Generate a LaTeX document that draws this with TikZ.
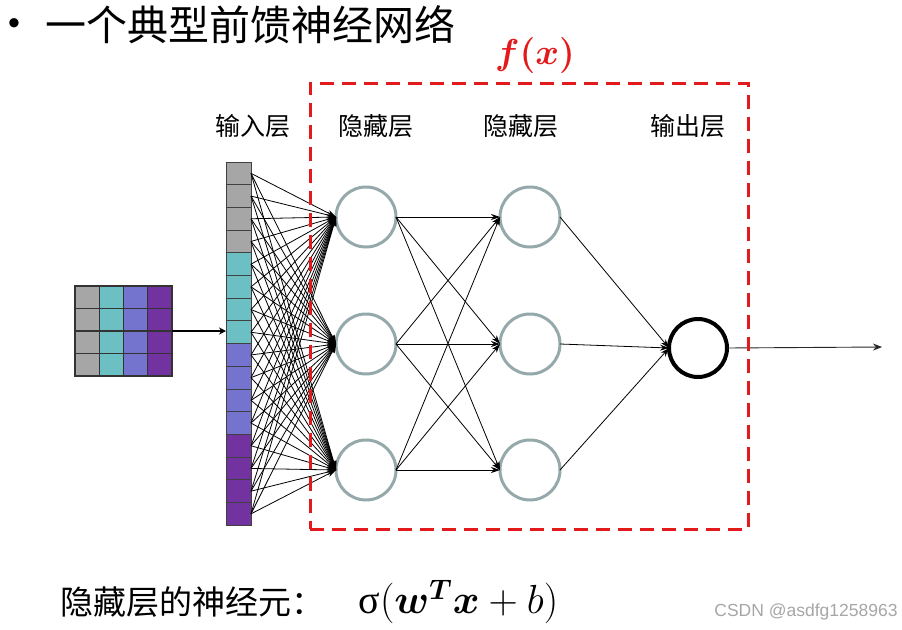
\documentclass[tikz,border=0pt]{standalone}
\usepackage{amsmath,bm}
\usepackage{fontspec}
\newfontfamily\cjk{Noto Sans CJK SC}
\newfontfamily\wm{Liberation Sans}
\newfontfamily\grk{Liberation Serif}
\usetikzlibrary{arrows.meta}
\definecolor{cgray}{HTML}{A6A6A6}
\definecolor{cteal}{HTML}{6CBFC2}
\definecolor{cblue}{HTML}{7474CF}
\definecolor{cpurple}{HTML}{7232A0}
\definecolor{nodeedge}{HTML}{95A9AB}
\definecolor{boxred}{HTML}{E31A1C}
\begin{document}
\begin{tikzpicture}[x=1pt,y=-1pt,
  gridcell/.style={rectangle,draw=black!80,line width=1.2pt,minimum width=24.25pt,minimum height=22.5pt,inner sep=0pt,outer sep=0pt},
  colcell/.style={rectangle,draw=black!75,line width=0.9pt,minimum width=25pt,minimum height=22.7pt,inner sep=0pt,outer sep=0pt},
  hid/.style={circle,draw=nodeedge,line width=3pt,minimum size=60pt,inner sep=0pt,outer sep=0pt,fill=white},
  outn/.style={circle,draw=black,line width=4pt,minimum size=58pt,inner sep=0pt,outer sep=0pt,fill=white},
  edge/.style={black,line width=0.8pt,-{Stealth[length=9pt,width=6pt]}},
  lbl/.style={font=\cjk\fontsize{25}{28}\selectfont,inner sep=0pt},
  fbox/.style={draw=boxred,line width=3pt,dash pattern=on 14pt off 8pt,minimum width=438pt,minimum height=446pt,inner sep=0pt}
]
\useasboundingbox (0,0) rectangle (902,629);

% title
\node[inner sep=0pt,font=\wm\fontsize{34}{36}\selectfont] (bullet) at (14,27) {•};
\node[anchor=west,inner sep=0pt,font=\cjk\fontsize{41}{46}\selectfont] (title) at (45,25) {一个典型前馈神经网络};

% input grid
\foreach \c/\col in {1/cgray,2/cteal,3/cblue,4/cpurple}
  \foreach \r in {1,...,4}
    \node[gridcell,fill=\col] (g\r\c) at ({75+24.25*(\c-0.5)},{286+22.5*(\r-0.5)}) {};

% input column
\foreach \g/\col in {0/cgray,1/cteal,2/cblue,3/cpurple}
  \foreach \k in {1,...,4} {
    \pgfmathtruncatemacro\i{4*\g+\k}
    \node[colcell,fill=\col] (c\i) at (238.5,{162+22.7*(\i-0.5)}) {};
  }

% grid to column
\draw[line width=2.6pt,-{Stealth[length=7pt,width=7pt]}] (g24.south east) -- (c8.west |- g24.south east);

% neurons
\node[hid] (h11) at (366,217) {};
\node[hid] (h12) at (366,344) {};
\node[hid] (h13) at (366,470) {};
\node[hid] (h21) at (530,217) {};
\node[hid] (h22) at (530,344) {};
\node[hid] (h23) at (530,470) {};
\node[outn] (o) at (698,348) {};
\coordinate (outEnd) at (882,347);

% edges input -> hidden1
\foreach \i in {1,...,16}
  \foreach \j in {1,2,3}
    \draw[edge] (c\i.east) -- (h1\j.west);

% hidden1 -> hidden2
\foreach \i in {1,2,3}
  \foreach \j in {1,2,3}
    \draw[edge] (h1\i.east) -- (h2\j.west);

% hidden2 -> output
\foreach \i in {1,2,3}
  \draw[edge] (h2\i.east) -- (o.west);

% output arrow
\draw[black!85,line width=0.9pt,-{Stealth[length=9pt,width=7pt]}] (o.east) -- (outEnd);

% f(x) box
\node[fbox] (fb) at (529,306) {};
\node[text=boxred,inner sep=0pt,font=\fontsize{15}{17}\selectfont,scale=2.5] (fx) at (535,55) {$\bm{f(x)}$};

% layer labels
\node[lbl] (l0) at (253,126) {输入层};
\node[lbl] (l1) at (376,126) {隐藏层};
\node[lbl] (l2) at (521,126) {隐藏层};
\node[lbl] (l3) at (688,126) {输出层};

% bottom text
\node[anchor=west,inner sep=0pt,font=\cjk\fontsize{33}{38}\selectfont] (neur) at (60,602) {隐藏层的神经元：};
\node[anchor=west,inner sep=0pt,font=\fontsize{17}{20}\selectfont,scale=2.35] (formula) at (358,602) {{\grk σ}$(\bm{w}^{\bm{T}}\bm{x}+b)$};

% watermark
\node[inner sep=0pt,text=black!35,font=\wm\fontsize{17.5}{20}\selectfont] (wmk) at (806,612) {CSDN @asdfg1258963};
\end{tikzpicture}
\end{document}
